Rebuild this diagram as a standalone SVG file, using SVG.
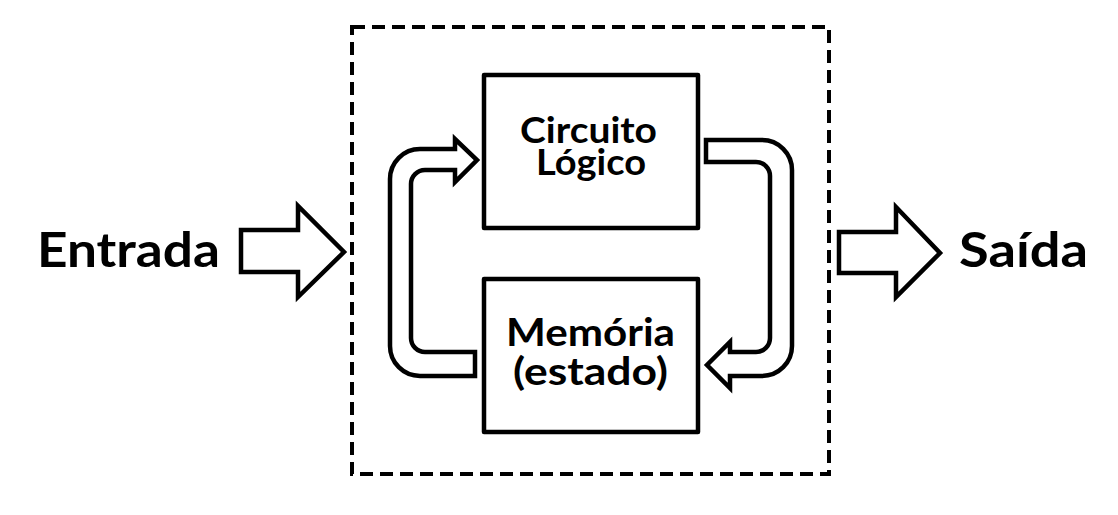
<svg xmlns="http://www.w3.org/2000/svg" width="1118" height="515" viewBox="0 0 1118 515">
<style>
.t{font-family:Lato,"Open Sans","Liberation Sans",sans-serif;font-weight:bold;fill:#000}
.box{fill:#fff;stroke:#000;stroke-width:4.5;stroke-linejoin:round}
.arr{fill:#fff;stroke:#000;stroke-width:4.5;stroke-linejoin:miter}
</style>
<rect width="1118" height="515" fill="#fff"/>
<g id="system">
<rect x="352" y="27" width="477" height="447" fill="none" stroke="#000" stroke-width="4" stroke-dasharray="13,7"/>
</g>
<g id="entrada">
<text class="t" x="37" y="267" font-size="47" textLength="183" lengthAdjust="spacingAndGlyphs">Entrada</text>
</g>
<g id="saida">
<text class="t" x="959" y="267" font-size="47" textLength="129" lengthAdjust="spacingAndGlyphs">Saída</text>
</g>
<g id="circuito">
<rect class="box" x="484" y="75" width="214" height="153"/>
<text class="t" x="520" y="143" font-size="36" textLength="137" lengthAdjust="spacingAndGlyphs">Circuito</text>
<text class="t" x="536" y="175" font-size="36" textLength="110" lengthAdjust="spacingAndGlyphs">Lógico</text>
</g>
<g id="memoria">
<rect class="box" x="484" y="279" width="214" height="153"/>
<text class="t" x="506" y="346" font-size="39" textLength="169" lengthAdjust="spacingAndGlyphs">Memória</text>
<text class="t" x="513" y="385" font-size="39" textLength="155" lengthAdjust="spacingAndGlyphs">(estado)</text>
</g>
<g id="connectors">
<path class="arr" d="M241,230 L298,230 L298,206 L344,252 L298,297 L298,272 L241,272 Z"/>
<path class="arr" d="M839,232 L896,232 L896,207 L940,253 L896,297 L896,273 L839,273 Z"/>
<path class="arr" d="M475,376 L420,376 A30,30 0 0 1 390,346 L390,179 A30,30 0 0 1 420,149 L455,149 L455,139 L477,160 L455,182 L455,170 L425,170 A14,14 0 0 0 411,184 L411,338 A14,14 0 0 0 425,352 L475,352 Z"/>
<path class="arr" d="M706,140 L762,140 A30,30 0 0 1 792,170 L792,346 A30,30 0 0 1 762,376 L730,376 L730,388 L707,365 L730,342 L730,352 L756,352 A14,14 0 0 0 770,338 L770,176 A14,14 0 0 0 756,162 L706,162 Z"/>
</g>
</svg>
